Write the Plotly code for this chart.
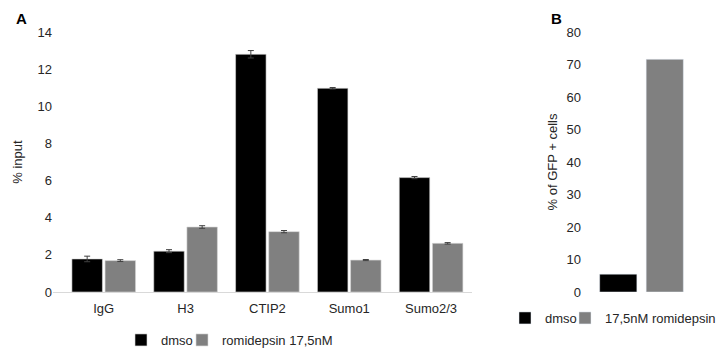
import plotly.graph_objects as go

# Panel A data
targets = ["IgG", "H3", "CTIP2", "Sumo1", "Sumo2/3"]
dmso_vals = [1.78, 2.2, 12.8, 10.97, 6.16]
dmso_err = [0.15, 0.08, 0.2, 0.04, 0.06]
romi_vals = [1.69, 3.5, 3.25, 1.72, 2.62]
romi_err = [0.05, 0.07, 0.06, 0.03, 0.04]
a_ticks = [0, 2, 4, 6, 8, 10, 12, 14]

# Panel B data
b_labels = ["dmso", "17,5nM romidepsin"]
b_vals = [5.5, 71.6]
b_ticks = [0, 10, 20, 30, 40, 50, 60, 70, 80]

BLACK = "#000000"
GREY = "#808080"
TXT = "#262626"
FONT = "Liberation Sans, Arial, sans-serif"
FS = 13
W, H = 717, 352

fig = go.Figure()
err_style = dict(type="data", thickness=1, width=3, color="#404040")
fig.add_trace(go.Bar(x=targets, y=dmso_vals, name="dmso", marker_color=BLACK,
                     marker_line=dict(color="#d9d9d9", width=0.6),
                     error_y=dict(array=dmso_err, **err_style),
                     xaxis="x", yaxis="y", legend="legend", showlegend=True))
fig.add_trace(go.Bar(x=targets, y=romi_vals, name="romidepsin 17,5nM", marker_color=GREY,
                     marker_line=dict(color="#d9d9d9", width=0.6),
                     error_y=dict(array=romi_err, **err_style),
                     xaxis="x", yaxis="y", legend="legend2", showlegend=True))

for i, (lab, v, c) in enumerate(zip(b_labels, b_vals, [BLACK, GREY])):
    fig.add_trace(go.Bar(x=[i], y=[v], name=lab, marker_color=c, width=0.8,
                         offsetgroup="b", xaxis="x2", yaxis="y2", legend=f"legend{3 + i}",
                         showlegend=True))


def leg(xpx, ypx):
    return dict(orientation="h", x=xpx / W, y=1 - ypx / H, xanchor="left", yanchor="middle",
                font=dict(size=FS, color=TXT), itemwidth=30, bgcolor="rgba(0,0,0,0)")


ybot = 1 - 292 / H
ytop = 1 - 32 / H
fig.update_layout(
    width=W, height=H, margin=dict(l=0, r=0, t=0, b=0, autoexpand=False),
    paper_bgcolor="white", plot_bgcolor="white", showlegend=True,
    font=dict(family=FONT, size=FS, color=TXT),
    barmode="group", bargap=0.19, bargroupgap=0.08,
    xaxis=dict(domain=[53 / W, 472 / W], range=[-0.62, 4.5], type="category",
               showline=True, linecolor="#d9d9d9", linewidth=1, ticks="",
               ticklabelstandoff=4,
               showgrid=False, anchor="y", tickfont=dict(size=FS, color=TXT)),
    yaxis=dict(domain=[ybot, ytop], range=[0, 14], tickvals=a_ticks, showgrid=False,
               zeroline=False, showline=False, ticks="", anchor="x",
               title=dict(text="% input", standoff=11, font=dict(size=FS, color=TXT))),
    xaxis2=dict(domain=[582 / W, 688 / W], range=[-0.78, 1.5], showticklabels=False,
                showgrid=False, zeroline=False, showline=False, ticks="", anchor="y2"),
    yaxis2=dict(domain=[ybot, ytop], range=[0, 80], tickvals=b_ticks, showgrid=False,
                zeroline=False, showline=False, ticks="", anchor="x2",
                title=dict(text="% of GFP + cells", standoff=5, font=dict(size=FS, color=TXT))),
    legend=leg(121, 340),
    legend2=leg(182, 340),
    legend3=leg(505, 318),
    legend4=leg(565, 318),
    annotations=[
        dict(text="<b>A</b>", x=14 / W, y=1 - 18 / H, xref="paper", yref="paper",
             xanchor="left", yanchor="middle", showarrow=False, font=dict(size=15, color="black")),
        dict(text="<b>B</b>", x=549 / W, y=1 - 18 / H, xref="paper", yref="paper",
             xanchor="left", yanchor="middle", showarrow=False, font=dict(size=15, color="black")),
    ],
)

fig.write_html("out.html", config={"displayModeBar": False},
               post_script="document.body.style.margin='0';")
